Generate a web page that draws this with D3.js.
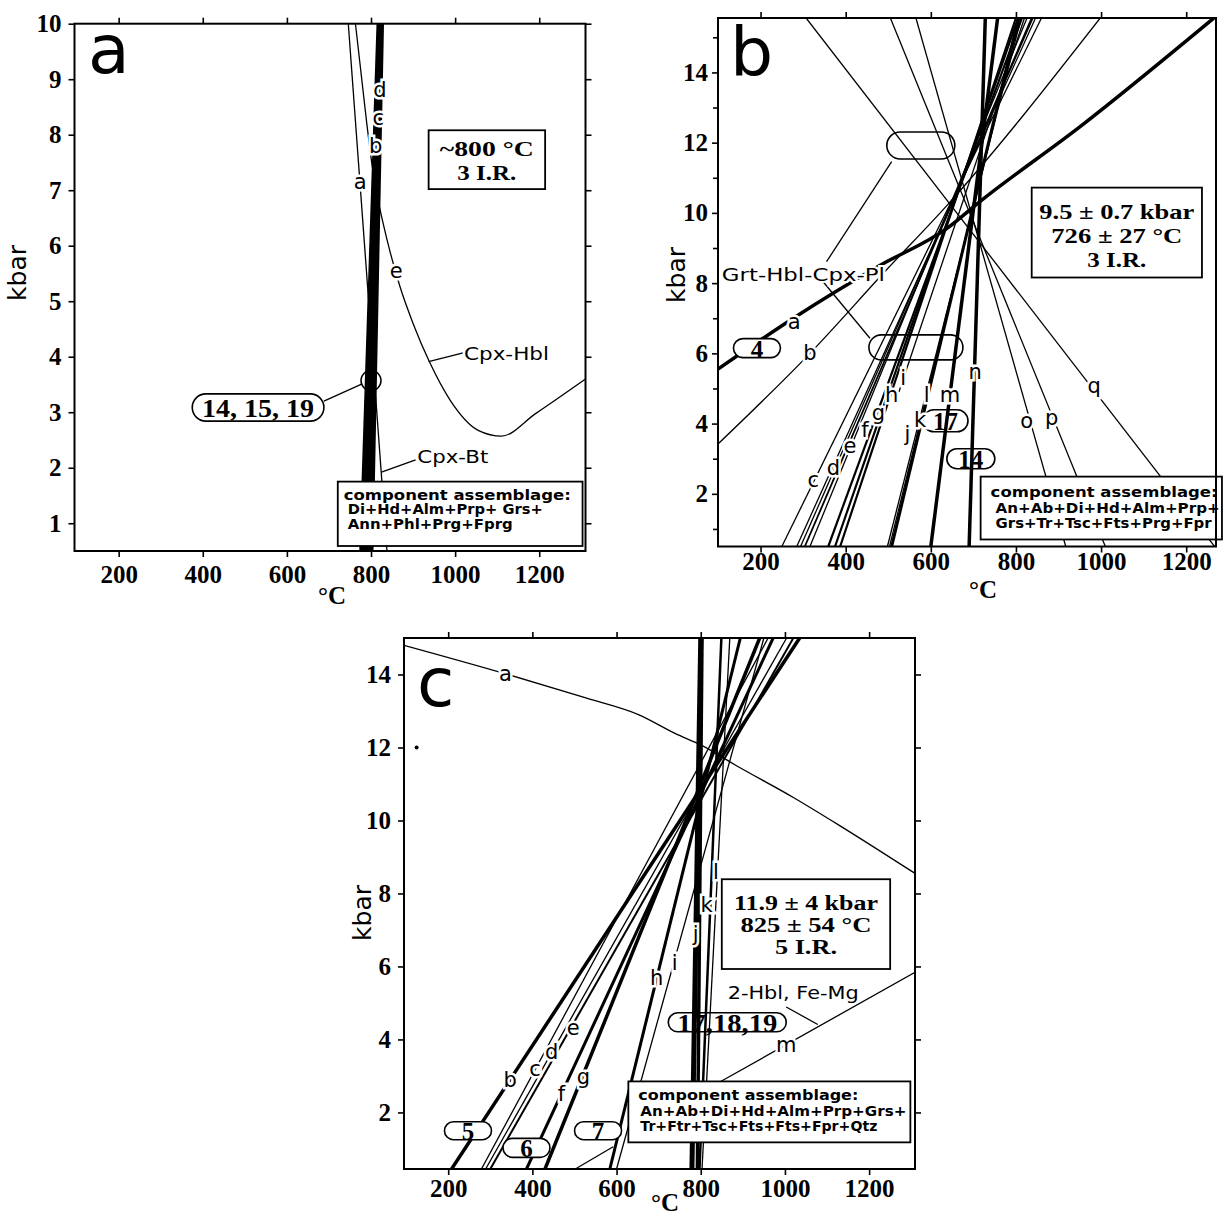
<!DOCTYPE html>
<html>
<head>
<meta charset="utf-8">
<title>P–T estimates</title>
<script src="https://cdn.jsdelivr.net/npm/d3@7/dist/d3.min.js"></script>
<style>
  html, body { margin: 0; padding: 0; background: #fff; }
  svg { display: block; }
</style>
</head>
<body>
<svg id="fig" width="1225" height="1218"></svg>
<script>
// ---------- shared axis values ----------
const tempTicks  = [200, 400, 600, 800, 1000, 1200];
const kbarTicksA = [1, 2, 3, 4, 5, 6, 7, 8, 9, 10];
const kbarTicksB = [2, 4, 6, 8, 10, 12, 14];
const kbarMinorB = [1, 3, 5, 7, 9, 11, 13, 15];
const kbarTicksC = [2, 4, 6, 8, 10, 12, 14];

// ---------- panel a : reactions as [°C, kbar] ----------
const aRxnA = [[746, 10], [838, 0.5]];
const aRxnB = [[819, 10], [778, 0.5]];
const aRxnC = [[822, 10], [789, 0.5]];
const aRxnD = [[825, 10], [800, 0.5]];
const aRxnE = [[763, 10], [790, 8.2], [802, 7.48], [817, 6.82], [840, 6.05], [869, 5.26], [900, 4.6],
               [940, 3.89], [988, 3.22], [1056, 2.67], [1110, 2.57], [1192, 2.98], [1310, 3.6]];
const aNames = ["a", "b", "c", "d", "e"];
const aNameT = [774, 811, 817, 821, 860];
const aNameP = [7.15, 7.8, 8.3, 8.8, 5.55];
const aResult = ["~800 °C", "3 I.R."];
const aAssemblage = ["component assemblage:", "Di+Hd+Alm+Prp+ Grs+", "Ann+Phl+Prg+Fprg"];
const aSamples = "14, 15, 19";

// ---------- panel b ----------
const bRxnA = [[100, 5.55], [277, 7.0], [480, 8.5], [637, 9.55], [716, 10.33], [950, 12.45], [1265, 15.55]];
const bRxnB = [[100, 3.42], [316, 6.0], [496, 8.38], [637, 10.2], [998, 15.55]];
const bRxnC = [[250, 0.5], [860, 15.55]];
const bRxnD = [[285, 0.5], [846, 15.55]];
const bRxnD2 = [[294, 0.5], [840, 15.55]];
const bRxnE = [[304, 0.5], [837, 15.55]];
const bRxnE2 = [[316, 0.5], [826, 15.55]];
const bRxnF = [[359, 0.5], [814, 15.55]];
const bRxnG = [[375, 0.5], [805, 15.55]];
const bRxnH = [[387, 0.5], [800, 15.55]];
const bRxnI = [[525, 4.9], [820, 15.55]];
const bRxnJ = [[498, 0.5], [812, 15.55]];
const bRxnK = [[503, 0.5], [809, 15.55]];
const bRxnL = [[508, 0.5], [806, 15.55]];
const bRxnM = [[600, 0.5], [757, 15.55]];
const bRxnN = [[690, 0.5], [728, 15.55]];
const bRxnO = [[565, 15.55], [917, 0.5]];
const bRxnP = [[505, 15.55], [1010, 0.5]];
const bRxnQ = [[307, 15.55], [1270, 0.45]];
const bNames = ["a", "b", "c", "d", "e", "f", "g", "h", "i", "j", "k", "l", "m", "n", "o", "p", "q"];
const bNameT = [279, 316, 324, 371, 410, 445, 477, 508, 535, 545, 575, 590, 645, 704, 825, 884, 984];
const bNameP = [6.9, 6.0, 2.4, 2.73, 3.35, 3.82, 4.3, 4.82, 5.29, 3.7, 4.1, 4.82, 4.82, 5.48, 4.06, 4.15, 5.06];
const bResult = ["9.5 ± 0.7 kbar", "726 ± 27 °C", "3 I.R."];
const bAssemblage = ["component assemblage:", "An+Ab+Di+Hd+Alm+Prp+", "Grs+Tr+Tsc+Fts+Prg+Fpr"];
const bThermometer = "Grt-Hbl-Cpx-Pl";

// ---------- panel c ----------
const cRxnA = [[95, 14.8], [336, 14.02], [529, 13.35], [652, 12.9], [740, 12.38], [800, 12.07],
               [885, 11.5], [1020, 10.63], [1130, 9.86], [1309, 8.55]];
const cRxnB = [[208, 0.45], [1035, 15]];
const cRxnC = [[279, 0.45], [960, 15]];
const cRxnD = [[289, 0.45], [1004, 15]];
const cRxnE = [[300, 0.45], [1020, 15]];
const cRxnF = [[386, 0.45], [972, 15]];
const cRxnG = [[430, 0.45], [940, 15]];
const cRxnH = [[584, 0.45], [894, 15]];
const cRxnI = [[600, 0.45], [950, 15]];
const cRxnV1 = [[779, 0.45], [800, 15]];
const cRxnV2 = [[792, 0.45], [803, 15]];
const cRxnK = [[797, 0.45], [849, 15]];
const cRxnL = [[803, 0.45], [869, 15]];
const cRxnM = [[840, 2.8], [1309, 5.84]];
const cNames = ["a", "b", "c", "d", "e", "f", "g", "h", "i", "j", "k", "l", "m"];
const cNameT = [336, 347, 406, 446, 497, 469, 521, 695, 738, 788, 814, 836, 1003];
const cNameP = [14.0, 2.88, 3.2, 3.65, 4.3, 2.5, 2.97, 5.67, 6.09, 6.9, 7.69, 8.6, 3.85];
const cResult = ["11.9 ± 4 kbar", "825 ± 54 °C", "5 I.R."];
const cAssemblage = ["component assemblage:", "An+Ab+Di+Hd+Alm+Prp+Grs+", "Tr+Ftr+Tsc+Fts+Fts+Fpr+Qtz"];
const cThermometer = "2-Hbl, Fe-Mg";

// ---------- drawing helpers ----------
const svg = d3.select("#fig");
const SERIF = '"Liberation Serif","Times New Roman",serif';
const SANS = '"DejaVu Sans",Verdana,sans-serif';
const THIN = 1.3;

function makePanel(id, xDom, xRng, yDom, yRng) {
  const g = svg.append("g").attr("id", id);
  const x = d3.scaleLinear().domain(xDom).range(xRng);
  const y = d3.scaleLinear().domain(yDom).range(yRng);
  g.append("clipPath").attr("id", id + "-clip").append("rect")
    .attr("x", xRng[0]).attr("y", yRng[1])
    .attr("width", xRng[1] - xRng[0]).attr("height", yRng[0] - yRng[1]);
  const under = g.append("g");
  const plot = g.append("g").attr("clip-path", `url(#${id}-clip)`);
  const over = g.append("g");
  return { g, x, y, under, plot, over };
}

function path(P, layer, pts, w, curve) {
  const gen = d3.line().x(d => P.x(d[0])).y(d => P.y(d[1])).curve(curve || d3.curveLinear);
  layer.append("path").attr("d", gen(pts))
    .attr("fill", "none").attr("stroke", "#000")
    .attr("stroke-width", w).attr("stroke-linejoin", "round");
}

function names(P, txt, Ts, Ps) {
  P.over.selectAll(null).data(txt).join("text")
    .attr("x", (d, i) => P.x(Ts[i])).attr("y", (d, i) => P.y(Ps[i]))
    .attr("text-anchor", "middle").attr("dominant-baseline", "central")
    .attr("font-family", SANS).attr("font-size", 21)
    .attr("fill", "#000").attr("stroke", "#fff").attr("stroke-width", 5)
    .attr("paint-order", "stroke").text(d => d);
}

function pill(layer, cx, cy, w, h, label, fill, fs, len) {
  layer.append("rect").attr("x", cx - w / 2).attr("y", cy - h / 2)
    .attr("width", w).attr("height", h).attr("rx", h / 2).attr("ry", h / 2)
    .attr("fill", fill ? "#fff" : "none").attr("stroke", "#000").attr("stroke-width", 1.6);
  if (label) {
    const t = layer.append("text").attr("x", cx).attr("y", cy + 1)
      .attr("text-anchor", "middle").attr("dominant-baseline", "central")
      .attr("font-family", SERIF).attr("font-weight", "bold").attr("font-size", fs || 25)
      .text(label);
    if (len) t.attr("textLength", len).attr("lengthAdjust", "spacingAndGlyphs");
  }
}

function box(layer, x0, y0, x1, y1) {
  layer.append("rect").attr("x", x0).attr("y", y0).attr("width", x1 - x0).attr("height", y1 - y0)
    .attr("fill", "#fff").attr("stroke", "#000").attr("stroke-width", 1.8);
}

function resultBox(P, t0, t1, p0, p1, lines, first, step, lens, fs) {
  const x0 = P.x(t0), x1 = P.x(t1), yTop = P.y(p0), yBot = P.y(p1);
  box(P.over, x0, yTop, x1, yBot);
  lines.forEach((s, i) => {
    P.over.append("text").attr("x", (x0 + x1) / 2).attr("y", yTop + first + i * step)
      .attr("text-anchor", "middle").attr("font-family", SERIF).attr("font-weight", "bold")
      .attr("font-size", fs).attr("textLength", lens[i]).attr("lengthAdjust", "spacingAndGlyphs")
      .text(s);
  });
}

function assemblageBox(P, t0, t1, p0, p1, lines, offs, bases, lens) {
  const x0 = P.x(t0), x1 = P.x(t1), yTop = P.y(p0), yBot = P.y(p1);
  box(P.over, x0, yTop, x1, yBot);
  lines.forEach((s, i) => {
    P.over.append("text").attr("x", x0 + offs[i]).attr("y", yTop + bases[i])
      .attr("font-family", SANS).attr("font-weight", "bold").attr("font-size", 13.5)
      .attr("textLength", lens[i]).attr("lengthAdjust", "spacingAndGlyphs").text(s);
  });
}

function frame(P, o) {
  const [x0, x1] = P.x.range(), [y0, y1] = P.y.range();
  const ax = P.g.append("g");
  const tidy = s => s.call(g => g.select(".domain").remove())
                     .call(g => g.selectAll("line").attr("stroke-width", 1.6));
  const lab = s => s.selectAll("text").attr("font-family", SERIF).attr("font-weight", "bold")
                     .attr("font-size", 25).attr("fill", "#000");
  const plain = d3.format("d");
  ax.append("g").attr("transform", `translate(0,${y0})`)
    .call(d3.axisBottom(P.x).tickValues(tempTicks).tickFormat(plain)
          .tickSize(6).tickPadding(o.xPad).tickSizeOuter(0))
    .call(tidy).call(lab);
  ax.append("g").attr("transform", `translate(0,${y1})`)
    .call(d3.axisTop(P.x).tickValues(tempTicks).tickSize(6).tickFormat("").tickSizeOuter(0))
    .call(tidy);
  ax.append("g").attr("transform", `translate(${x0},0)`)
    .call(d3.axisLeft(P.y).tickValues(o.yTicks).tickFormat(plain)
          .tickSize(6).tickPadding(o.yPad).tickSizeOuter(0))
    .call(tidy).call(lab);
  if (o.yMinor) {
    ax.append("g").attr("transform", `translate(${x0},0)`)
      .call(d3.axisLeft(P.y).tickValues(o.yMinor).tickSize(5).tickFormat("").tickSizeOuter(0))
      .call(tidy);
  }
  if (o.right) {
    ax.append("g").attr("transform", `translate(${x1},0)`)
      .call(d3.axisRight(P.y).tickValues(o.yTicks).tickSize(6).tickFormat("").tickSizeOuter(0))
      .call(tidy);
  }
  P.g.append("rect").attr("x", x0).attr("y", y1).attr("width", x1 - x0).attr("height", y0 - y1)
    .attr("fill", "none").attr("stroke", "#000").attr("stroke-width", 2);
  // axis titles and panel letter
  P.g.append("text").attr("transform", `translate(${o.kbarX},${o.kbarY}) rotate(-90)`)
    .attr("text-anchor", "middle").attr("dominant-baseline", "central")
    .attr("font-family", SANS).attr("font-size", 25).text("kbar");
  P.g.append("text").attr("x", o.degX).attr("y", o.degY).attr("text-anchor", "middle")
    .attr("font-family", SERIF).attr("font-weight", "bold").attr("font-size", 25).text("°C");
  P.g.append("text").attr("x", o.letterX).attr("y", o.letterY)
    .attr("font-family", SANS).attr("font-size", 68).text(o.letter);
}

function note(P, text, t, p, len) {
  P.over.append("text").attr("x", P.x(t)).attr("y", P.y(p))
    .attr("font-family", SANS).attr("font-size", 17)
    .attr("fill", "#000").attr("stroke", "#fff").attr("stroke-width", 4).attr("paint-order", "stroke")
    .attr("textLength", len).attr("lengthAdjust", "spacingAndGlyphs").text(text);
}

// ================= panel a =================
{
  const P = makePanel("pa", [95, 1310], [74.5, 585.5], [0.5, 10], [551, 23.7]);
  path(P, P.plot, aRxnA, THIN);
  path(P, P.plot, aRxnE, THIN, d3.curveMonotoneX);
  [aRxnB, aRxnC, aRxnD].forEach(r => path(P, P.plot, r, 5));
  names(P, aNames, aNameT, aNameP);

  // sample group marker and its label
  P.over.append("ellipse").attr("cx", P.x(800)).attr("cy", P.y(3.57)).attr("rx", 10).attr("ry", 10)
    .attr("fill", "none").attr("stroke", "#000").attr("stroke-width", 1.5);
  path(P, P.over, [[779, 3.51], [688, 3.2]], THIN);
  pill(P.over, (P.x(375) + P.x(688)) / 2, (P.y(3.33) + P.y(2.84)) / 2,
       P.x(688) - P.x(375), P.y(2.84) - P.y(3.33), aSamples, true, 26, 112);

  // thermometer call-outs
  path(P, P.over, [[937, 3.91], [1019, 4.07]], THIN);
  note(P, "Cpx-Hbl", 1021, 3.94, 85);
  path(P, P.over, [[825, 1.92], [906, 2.14]], THIN);
  note(P, "Cpx-Bt", 910, 2.08, 71);

  resultBox(P, 937, 1214, 8.08, 7.02, aResult, 26, 24, [94, 59], 21);
  assemblageBox(P, 721, 1303, 1.75, 0.59, aAssemblage, [6, 10, 10], [18, 32, 47], [227, 195, 165]);

  frame(P, { xPad: 8, yPad: 7, yTicks: kbarTicksA, right: true,
             kbarX: 17, kbarY: 273, degX: 332, degY: 604,
             letter: "a", letterX: 88, letterY: 73 });
}

// ================= panel b =================
{
  const P = makePanel("pb", [100, 1270], [718, 1216], [0.5, 15.55], [546.5, 18]);
  // pills that sit beneath the reaction lines
  pill(P.under, P.x(634.5), P.y(4.08), 45, 22, "17", true, 25);
  pill(P.under, P.x(694), P.y(3.0), 48, 20, "14", true, 25);

  path(P, P.plot, bRxnA, 3.5, d3.curveMonotoneX);
  path(P, P.plot, bRxnB, THIN, d3.curveMonotoneX);
  [bRxnC, bRxnD, bRxnD2, bRxnE2, bRxnI, bRxnJ, bRxnK, bRxnO, bRxnP, bRxnQ].forEach(r => path(P, P.plot, r, THIN));
  path(P, P.plot, bRxnE, 1.8);
  [bRxnF, bRxnG, bRxnH].forEach(r => path(P, P.plot, r, 2.2));
  path(P, P.plot, bRxnL, 3);
  path(P, P.plot, bRxnM, 3.5);
  path(P, P.plot, bRxnN, 3.5);

  // open pills linked to the thermometer name
  pill(P.plot, P.x(576.5), P.y(11.92), 68, 27, null, false);
  pill(P.plot, P.x(565), P.y(6.17), 94, 25, null, false);
  path(P, P.plot, [[355, 8.61], [508, 11.46]], THIN);
  path(P, P.plot, [[347, 8.04], [457, 6.43]], THIN);
  note(P, bThermometer, 109, 8.06, 163);

  names(P, bNames, bNameT, bNameP);
  pill(P.over, P.x(191.5), P.y(6.15), 47, 19, "4", true, 25);

  resultBox(P, 837, 1237, 10.72, 8.16, bResult, 31, 24, [155, 131, 59], 21);
  assemblageBox(P, 717, 1284, 2.49, 0.7, bAssemblage, [10, 15, 15], [20.5, 36, 51], [227, 224, 216]);

  frame(P, { xPad: 0, yPad: 4, yTicks: kbarTicksB, yMinor: kbarMinorB, right: false,
             kbarX: 676, kbarY: 275, degX: 983, degY: 598,
             letter: "b", letterX: 730, letterY: 76 });
}

// ================= panel c =================
{
  const P = makePanel("pc", [95, 1309], [404, 915], [0.45, 15], [1169, 638]);
  pill(P.under, P.x(863), P.y(4.47), 118, 19, "17,18,19", true, 26, 100);

  path(P, P.plot, cRxnA, THIN, d3.curveMonotoneX);
  [cRxnC, cRxnD, cRxnI, cRxnL, cRxnM].forEach(r => path(P, P.plot, r, THIN));
  path(P, P.plot, cRxnE, 2);
  path(P, P.plot, cRxnB, 3.5);
  path(P, P.plot, cRxnF, 3);
  path(P, P.plot, cRxnG, 3.5);
  path(P, P.plot, cRxnH, 3);
  path(P, P.plot, cRxnK, 2.5);
  path(P, P.plot, cRxnV2, 3.5);
  path(P, P.plot, cRxnV1, 5);
  path(P, P.plot, [[505, 0.47], [592, 1.06]], THIN);
  path(P, P.plot, [[1003, 4.89], [1078, 4.41]], THIN);
  P.plot.append("circle").attr("cx", P.x(125)).attr("cy", P.y(12.0)).attr("r", 2).attr("fill", "#000");

  names(P, cNames, cNameT, cNameP);
  note(P, cThermometer, 864, 5.11, 131);

  pill(P.over, P.x(247), P.y(1.5), 47, 18, "5", true, 25);
  pill(P.over, P.x(386), P.y(1.03), 47, 19, "6", true, 25);
  pill(P.over, P.x(556), P.y(1.5), 47, 18, "7", true, 25);

  resultBox(P, 850, 1250, 8.39, 5.93, cResult, 31, 22, [144, 131, 62], 20);
  assemblageBox(P, 628, 1298, 2.85, 1.18, cAssemblage, [10, 12, 12], [18.5, 35, 50], [220, 266, 237]);

  frame(P, { xPad: 4, yPad: 7, yTicks: kbarTicksC, right: true,
             kbarX: 362, kbarY: 913, degX: 665, degY: 1211,
             letter: "c", letterX: 417, letterY: 706 });
}
</script>
</body>
</html>
